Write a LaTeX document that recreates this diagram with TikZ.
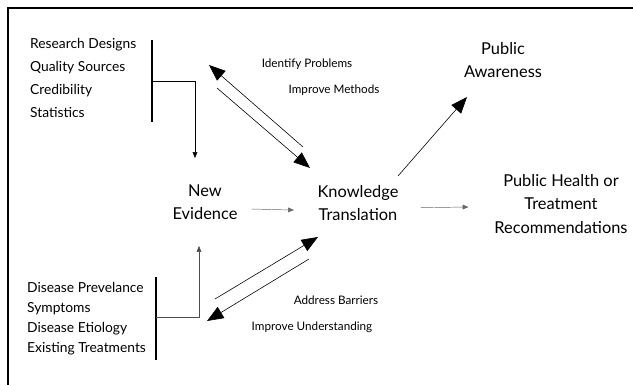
\documentclass[tikz,border=0pt]{standalone}
\usepackage{fontspec}
\setmainfont{Lato}
\usetikzlibrary{arrows.meta}
\tikzset{
  big/.style={font=\fontsize{14}{20}\selectfont, align=center, inner sep=2pt},
  topitems/.style={font=\fontsize{11.8}{19.5}\selectfont, align=left, anchor=west},
  lowitems/.style={font=\fontsize{11.8}{17}\selectfont, align=left, anchor=west},
  note/.style={font=\fontsize{10}{11}\selectfont},
  bar/.style={line width=1.3pt},
  thinarrow/.style={line width=0.4pt, -{Triangle[length=5pt,width=4pt]}},
  fatarrow/.style={line width=0.5pt, -{Triangle[length=14pt,width=11pt]}},
}
\begin{document}
\begin{tikzpicture}[x=0.03cm,y=-0.03cm]
\useasboundingbox (0,0) rectangle (633,385);
% frame, only top and left
\draw[line width=2.2pt] (8,385) -- (8,8) -- (633,8);

% the two lists and their bars
\node[topitems] (design) at (26,78) {Research Designs\\Quality Sources\\Credibility\\Statistics};
\node[lowitems] (disease) at (23,319) {Disease Prevelance\\Symptoms\\Disease Etiology\\Existing Treatments};
\draw[bar] (152,40) -- (152,122);
\draw[bar] (156,277) -- (156,360);
\coordinate (topjoin) at (152,81);
\coordinate (lowjoin) at (156,317);

% main boxes
\node[big] (evid) at (205,202) {New\\Evidence};
\node[big] (know) at (358,203) {Knowledge\\Translation};
\node[big] (recs) at (561,204) {Public Health or\\Treatment\\Recommendations};
\node[big] (aware) at (503,60) {Public\\Awareness};

% feeding arrows
\coordinate (evidtop) at (195,158);
\coordinate (evidlow) at (199,246);
\draw[thinarrow] (topjoin) -| (evidtop);
\draw[thinarrow, black!70] (lowjoin) -| (evidlow);
\draw[thinarrow, black!60] ([xshift=10pt,yshift=-6pt]evid.east) -- ([xshift=-18pt,yshift=-6pt]know.west);
\draw[thinarrow, black!60] ([xshift=17pt,yshift=-4pt]know.east) -- ([xshift=-20pt]recs.west |- 0,207);

% loops with the main box
\coordinate (ktopa) at (303,147);
\coordinate (ktopb) at (310,168);
\coordinate (etopa) at (209,65);
\coordinate (etopb) at (217,88);
\draw[fatarrow] (ktopa) -- (etopa);
\draw[fatarrow] (etopb) -- (ktopb);
\coordinate (klowa) at (318,237);
\coordinate (klowb) at (309,259);
\coordinate (elowa) at (215,299);
\coordinate (elowb) at (207,321);
\draw[fatarrow] (elowa) -- (klowa);
\draw[fatarrow] (klowb) -- (elowb);

\coordinate (kout) at (398,176);
\coordinate (awarein) at (467,97);
\draw[fatarrow] (kout) -- (awarein);

% arrow labels
\node[note] (ident) at (307,64) {Identify Problems};
\node[note] (methods) at (334,90) {Improve Methods};
\node[note] (barriers) at (336,300) {Address Barriers};
\node[note] (underst) at (312,327) {Improve Understanding};
\end{tikzpicture}
\end{document}
